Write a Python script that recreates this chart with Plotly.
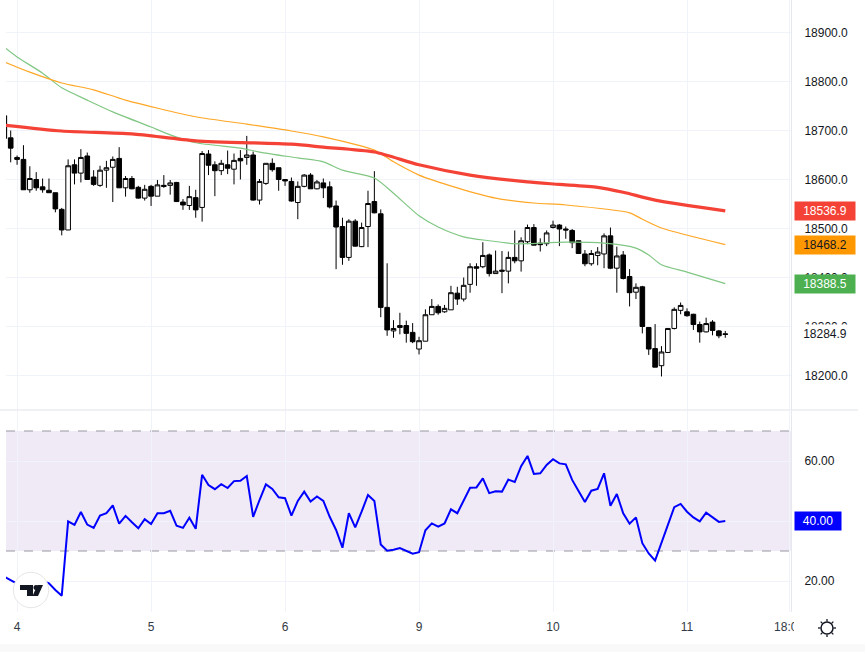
import math
import plotly.graph_objects as go
from plotly.subplots import make_subplots

# bars are numbered the way the chart spaces them, weekends and gaps left out
bars = list(range(-1, 113))

opens = [18731,18686,18646,18642,18580,18601,18586,18579,18574,18540,18498,18631,18614,18649,18606,18589,18620,18626,18644,18584,18603,18585,18563,18587,18567,18589,18589,18595,18555,18548,18564,18544,18653,18631,18619,18631,18622,18644,18646,18651,18559,18593,18634,18625,18601,
         18597,18554,18587,18610,18582,18594,18586,18547,18505,18442,18516,18464,18505,18556,18531,18340,18292,18299,18303,18289,18255,18271,18325,18342,18331,18335,18369,18357,18387,18423,18423,18447,18409,18416,18414,18442,18435,18474,18503,18471,18470,18503,18508,18500,18497,18476,18449,18429,18446,18449,18486,18420,18447,18403,18371,18382,18299,18256,18221,18248,18297,18334,18331,18326,18305,18290,18310,18292,18286]
highs = [18731,18701,18650,18671,18628,18616,18603,18603,18574,18543,18642,18642,18663,18656,18620,18629,18639,18648,18667,18608,18608,18588,18590,18590,18600,18610,18600,18596,18561,18588,18580,18659,18661,18638,18641,18660,18654,18661,18690,18658,18602,18634,18644,18625,18601,
         18605,18597,18612,18614,18600,18603,18597,18558,18523,18520,18520,18513,18578,18618,18540,18430,18314,18329,18313,18308,18280,18336,18357,18346,18345,18384,18382,18401,18430,18430,18473,18450,18456,18455,18454,18497,18483,18509,18510,18481,18497,18517,18510,18505,18500,18476,18457,18457,18463,18491,18503,18464,18455,18418,18389,18384,18299,18306,18261,18297,18340,18350,18338,18327,18311,18319,18314,18294,18292]
lows = [18685,18636,18631,18580,18574,18578,18574,18574,18534,18487,18498,18591,18595,18601,18588,18586,18584,18555,18584,18566,18581,18562,18558,18547,18567,18584,18570,18555,18539,18539,18523,18515,18610,18567,18610,18612,18591,18601,18631,18558,18550,18590,18617,18578,18588,
        18556,18520,18585,18582,18581,18563,18542,18418,18427,18435,18464,18463,18463,18532,18320,18282,18278,18285,18268,18267,18244,18271,18325,18325,18329,18335,18345,18352,18370,18384,18420,18403,18409,18369,18389,18430,18413,18469,18467,18454,18465,18501,18465,18480,18461,18449,18424,18425,18426,18420,18418,18370,18397,18342,18357,18287,18243,18218,18199,18248,18295,18326,18321,18294,18268,18289,18283,18277,18278]
closes = [18685,18665,18642,18580,18603,18584,18580,18574,18541,18498,18629,18614,18646,18601,18591,18620,18625,18642,18584,18603,18582,18563,18581,18567,18590,18587,18594,18556,18549,18566,18539,18654,18630,18619,18634,18624,18640,18639,18651,18559,18597,18634,18621,18601,18598,
          18557,18587,18610,18582,18596,18584,18545,18504,18442,18516,18465,18503,18552,18533,18340,18294,18297,18303,18287,18270,18272,18325,18342,18329,18338,18370,18357,18385,18423,18420,18446,18409,18414,18414,18442,18435,18476,18503,18467,18468,18492,18508,18500,18498,18472,18450,18429,18450,18453,18486,18420,18445,18399,18370,18381,18301,18255,18218,18249,18297,18336,18344,18323,18305,18290,18307,18293,18282,18284.9]

# moving averages, read only at the bars where the curve bends
ma_red_bars = [-1, 8, 19, 29, 44, 49, 57, 64, 72, 81, 86, 92, 96, 101, 112]
ma_red = [18712, 18700, 18694, 18680, 18673, 18667, 18657, 18631, 18610, 18596, 18591, 18585, 18575, 18559, 18536.9]
ma_orange_bars = [-1, 3, 8, 13, 18, 29, 37, 44, 49, 57, 60, 64, 70, 76, 82, 87, 97, 99, 102, 112]
ma_orange = [18841, 18820, 18798, 18784, 18763, 18729, 18714, 18700, 18688, 18661, 18637, 18610, 18584, 18563, 18553, 18549, 18533, 18520, 18502, 18468.2]
ma_green_bars = [-1, 1, 5, 8, 12, 16, 22, 25, 29, 36, 39, 45, 49, 52, 57, 60, 64, 67, 71, 75, 79, 81, 87, 93, 98, 100, 102, 106, 112]
ma_green = [18871, 18851, 18818, 18788, 18763, 18739, 18708, 18692, 18676, 18665, 18657, 18645, 18637, 18620, 18604, 18573, 18527, 18504, 18484, 18476, 18470, 18470, 18473, 18471, 18461, 18447, 18427, 18412, 18388.5]

rsi = [21.4,20.3,19,18,19,20,20,19.2,17,15.1,39.9,38.7,43,38.8,37.7,41.8,42.6,45.2,39.1,41.7,39.6,37.6,40.6,39,42.6,42.6,43.4,38.4,37.7,41.1,37.4,55.4,52,50.6,52.3,51,53.3,53.4,55,41.4,47,52.2,50.7,47.9,47.6,
       41.8,46.7,49.8,46.5,48.2,46.7,41.4,37,31.1,42.6,37.9,43.1,48.7,46.7,32.2,30.1,30.4,31,30.1,29.1,29.6,36.9,39.2,38.1,39.2,43.9,42.6,46.8,51.1,51.2,54.2,49.3,49.9,49.8,53.8,53,58.3,61.7,55.7,55.9,58.7,60.6,59.2,58.9,53.7,50,46.3,50.1,50.7,55.9,45.1,49,42.6,39.1,41.2,32.6,29.2,26.8,32.6,39,44.6,45.7,43.1,41.2,39.9,42.8,41.1,39.7,40]

day_bars = [1, 22, 43, 64, 85, 106, 122]
day_labels = ["4", "5", "6", "9", "10", "11", "18:00"]
price_ticks = [18200, 18300, 18400, 18500, 18600, 18700, 18800, 18900]
rsi_ticks = [20, 40, 60]

W, H = 865, 652
LEFT, RIGHT, BOTTOM = 6, 791, 612
GRID = "#f0f3fa"
TEXT = "#131722"
FONT = "Liberation Sans"


# pixel helpers for the things that are not data (logo, tags, footer)
def px(x):
    return (x - LEFT) / (RIGHT - LEFT)


def py(y):
    return 1 - y / BOTTOM


fig = make_subplots(rows=2, cols=1, shared_xaxes=True, vertical_spacing=0,
                    row_heights=[410, 202])
fig.update_layout(yaxis=dict(domain=[py(410), 1]), yaxis2=dict(domain=[0, py(411)]))

fig.add_trace(go.Candlestick(x=bars, open=opens, high=highs, low=lows, close=closes,
                             increasing=dict(line=dict(color="#000000", width=1), fillcolor="#ffffff"),
                             decreasing=dict(line=dict(color="#000000", width=1), fillcolor="#000000"),
                             whiskerwidth=0), row=1, col=1)
fig.add_trace(go.Scatter(x=ma_green_bars, y=ma_green, mode="lines",
                         line=dict(color="#81c784", width=1.2, shape="spline", smoothing=0.7)), row=1, col=1)
fig.add_trace(go.Scatter(x=ma_orange_bars, y=ma_orange, mode="lines",
                         line=dict(color="#ffa726", width=1.2, shape="spline", smoothing=0.7)), row=1, col=1)
fig.add_trace(go.Scatter(x=ma_red_bars, y=ma_red, mode="lines",
                         line=dict(color="#f44336", width=3.2, shape="spline", smoothing=0.7)), row=1, col=1)

fig.add_trace(go.Scatter(x=bars, y=rsi, mode="lines", line=dict(color="#0000ff", width=2)), row=2, col=1)
# RSI band sits on top of the grid, so it has to stay see-through
fig.add_hrect(y0=30, y1=70, fillcolor="rgba(110,50,175,0.1)", opacity=1, line_width=0, layer="below", row=2, col=1)
for level in [30, 70]:
    fig.add_hline(y=level, line=dict(color="#9a98a2", width=1.2, dash="dash"), layer="below", row=2, col=1)

x_style = dict(range=[-0.737, 122.3], tickvals=day_bars, ticktext=day_labels, showgrid=True,
               gridcolor=GRID, gridwidth=1, zeroline=False, showline=False, ticks="",
               rangeslider_visible=False, ticklabelstandoff=6,
               tickfont=dict(family=FONT, size=12, color="#333a45"))
fig.update_xaxes(**x_style)
fig.update_xaxes(showticklabels=False, row=1, col=1)
fig.update_xaxes(showticklabels=True, row=2, col=1)

y_style = dict(side="right", showgrid=True, gridcolor=GRID, gridwidth=1, zeroline=False,
               showline=True, linecolor="#e6e8ee", linewidth=1, ticks="", ticklabelstandoff=10,
               tickfont=dict(family=FONT, size=12, color=TEXT))
fig.update_yaxes(range=[18130.6, 18967.3], tickvals=price_ticks, ticktext=[f"{t:.1f}" for t in price_ticks], row=1, col=1, **y_style)
fig.update_yaxes(range=[9.67, 76.67], tickvals=rsi_ticks, ticktext=[f"{t:.2f}" for t in rsi_ticks], row=2, col=1, **y_style)


def paper_rect(x0, y0, x1, y1, **kw):
    fig.add_shape(type="rect", xref="paper", yref="paper", x0=px(x0), x1=px(x1), y0=py(y0), y1=py(y1), **kw)


# pane separator, clipped time label and footer strip
fig.add_shape(type="line", xref="paper", yref="paper", x0=px(0), x1=px(858), y0=py(410), y1=py(410),
              line=dict(color="#e0e3eb", width=1))
paper_rect(794, 613, 865, 643, fillcolor="#ffffff", line_width=0)
paper_rect(0, 644, 865, 652, fillcolor="#f9f9f9", line_width=0)

# logo
fig.add_shape(type="circle", xref="paper", yref="paper", x0=px(13.3), x1=px(48.7), y0=py(572.3), y1=py(607.7),
              fillcolor="#ffffff", line=dict(color="#e6e6e6", width=1))
t_points = [(20, 585), (33, 585), (33, 596), (27, 596), (27, 590), (20, 590)]
v_points = [(37.5, 585), (43, 585), (38, 596), (32.5, 596)]
for pts in [t_points, v_points]:
    path = "M " + " L ".join(f"{px(a)},{py(b)}" for a, b in pts) + " Z"
    fig.add_shape(type="path", xref="paper", yref="paper", path=path, fillcolor="#131722", line_width=0)
fig.add_shape(type="circle", xref="paper", yref="paper", x0=px(33.5), x1=px(38.5), y0=py(585), y1=py(590),
              fillcolor="#131722", line_width=0)

# gear at the bottom right
fig.add_shape(type="circle", xref="paper", yref="paper", x0=px(821), x1=px(833), y0=py(622), y1=py(634),
              line=dict(color=TEXT, width=1.5))
for k in range(8):
    a = k * math.pi / 4
    fig.add_shape(type="line", xref="paper", yref="paper",
                  x0=px(827 + 6.5 * math.cos(a)), x1=px(827 + 9 * math.cos(a)),
                  y0=py(628 + 6.5 * math.sin(a)), y1=py(628 + 9 * math.sin(a)),
                  line=dict(color=TEXT, width=1.3))

# price tags on the axis
tags = [("y", ma_red[-1], "18536.9", "#f44336", "#ffffff", 60),
        ("y", ma_orange[-1], "18468.2", "#ff9800", "#131722", 60),
        ("y", ma_green[-1], "18388.5", "#4caf50", "#ffffff", 60),
        ("y", closes[-1], "18284.9", "#ffffff", TEXT, 60),
        ("y2", rsi[-1], "40.00", "#0000ff", "#ffffff", 46)]
for yref, value, label, bg, fg, width in tags:
    fig.add_annotation(xref="paper", yref=yref, x=px(794), y=value, xanchor="left", yanchor="middle",
                       text=label, showarrow=False, bgcolor=bg, width=width, height=18, borderpad=0,
                       align="center", font=dict(family=FONT, size=12, color=fg))

fig.update_layout(width=W, height=H, margin=dict(l=LEFT, r=W - RIGHT, t=0, b=H - BOTTOM),
                  paper_bgcolor="#ffffff", plot_bgcolor="#ffffff", showlegend=False,
                  boxgap=0.15, boxgroupgap=0.15)

fig.write_html("out.html", config={"displayModeBar": False},
               post_script="document.body.style.margin='0';document.body.style.overflow='hidden';")
